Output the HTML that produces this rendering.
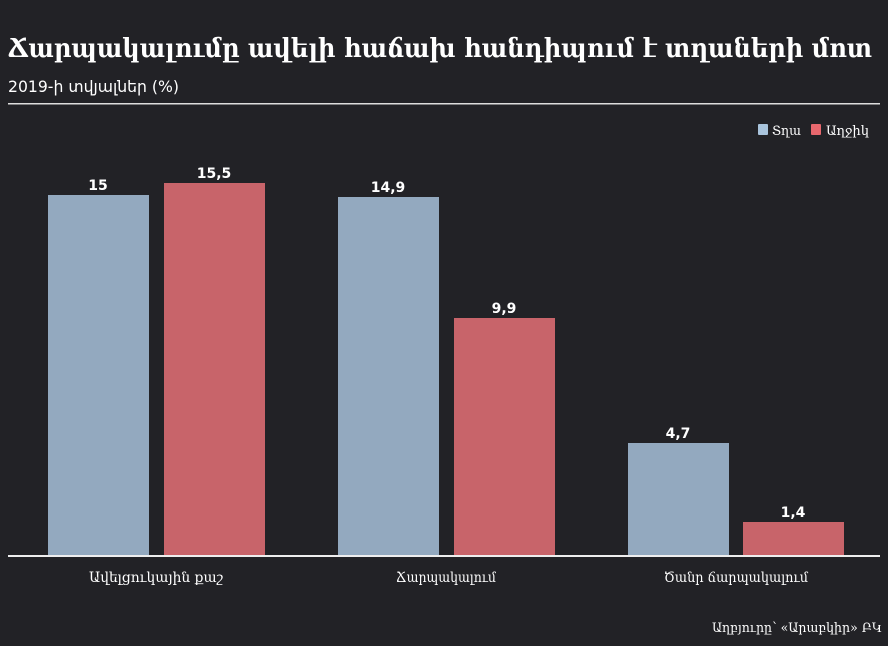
<!DOCTYPE html>
<html><head><meta charset="utf-8"><style>
html,body{margin:0;padding:0;background:#222226;}
svg{display:block}
</style></head><body>
<svg width="888" height="646" viewBox="0 0 888 646" xmlns="http://www.w3.org/2000/svg">
<rect width="888" height="646" fill="#222226"/>
<text x="8" y="57" fill="#fff" font-family="DejaVu Serif, serif" font-weight="bold" font-size="26" textLength="864" lengthAdjust="spacingAndGlyphs">Ճարպակալումը ավելի հաճախ հանդիպում է տղաների մոտ</text>
<text x="8" y="92" fill="#fff" font-family="DejaVu Sans, sans-serif" font-size="16" textLength="171" lengthAdjust="spacingAndGlyphs">2019-ի տվյալներ (%)</text>
<rect x="8" y="103" width="872" height="1.5" fill="#ddd"/>
<rect x="758" y="124" width="10" height="11" rx="1" fill="#a9c4dc"/>
<text x="772" y="135" fill="#fff" font-family="DejaVu Serif, serif" font-size="13" textLength="29" lengthAdjust="spacingAndGlyphs">Տղա</text>
<rect x="811" y="124" width="10" height="11" rx="1" fill="#e8686e"/>
<text x="826" y="135" fill="#fff" font-family="DejaVu Serif, serif" font-size="13" textLength="43" lengthAdjust="spacingAndGlyphs">Աղջիկ</text>
<g font-family="DejaVu Sans, sans-serif" font-size="14" font-weight="bold" fill="#fff" text-anchor="middle">
<rect x="48" y="195" width="101" height="361" fill="#93a9bf"/>
<text x="98" y="190">15</text>
<rect x="164" y="183" width="101" height="373" fill="#c8646a"/>
<text x="214" y="178">15,5</text>
<rect x="338" y="197" width="101" height="359" fill="#93a9bf"/>
<text x="388" y="192">14,9</text>
<rect x="454" y="318" width="101" height="238" fill="#c8646a"/>
<text x="504" y="313">9,9</text>
<rect x="628" y="443" width="101" height="113" fill="#93a9bf"/>
<text x="678" y="438">4,7</text>
<rect x="743" y="522" width="101" height="34" fill="#c8646a"/>
<text x="793" y="517">1,4</text>
</g>
<rect x="8" y="555" width="872" height="2" fill="#eee"/>
<g font-family="DejaVu Serif, serif" font-size="14" fill="#fff" text-anchor="middle">
<text x="156" y="582" textLength="134" lengthAdjust="spacingAndGlyphs">Ավելցուկային քաշ</text>
<text x="446" y="582" textLength="100" lengthAdjust="spacingAndGlyphs">Ճարպակալում</text>
<text x="736" y="582" textLength="144" lengthAdjust="spacingAndGlyphs">Ծանր ճարպակալում</text>
</g>
<text x="882" y="632" fill="#fff" font-family="DejaVu Serif, serif" font-size="13" text-anchor="end" textLength="170" lengthAdjust="spacingAndGlyphs">Աղբյուրը՝ «Արաբկիր» ԲԿ</text>
</svg>
</body></html>
